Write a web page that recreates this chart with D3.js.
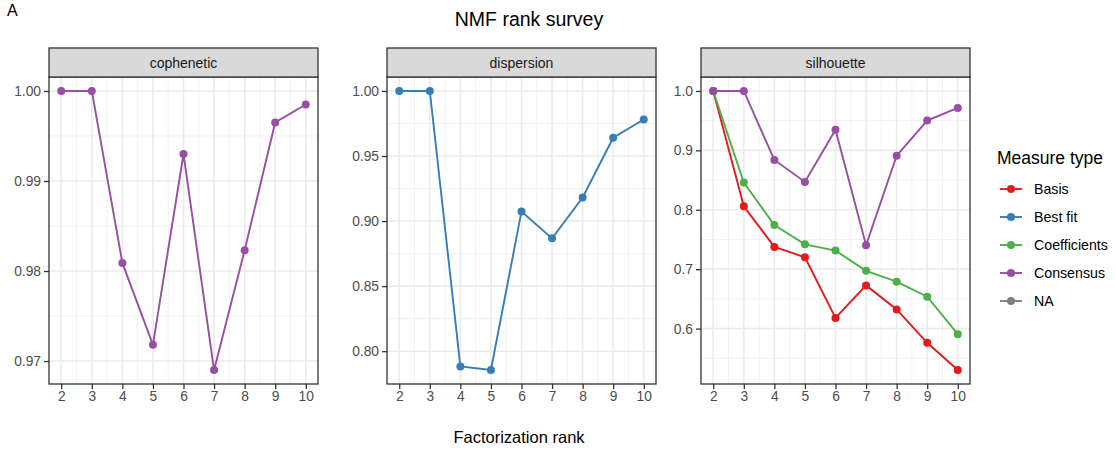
<!DOCTYPE html>
<html>
<head>
<meta charset="utf-8">
<script src="https://cdn.jsdelivr.net/npm/d3@7"></script>
<style>
  html, body { margin: 0; padding: 0; background: #fff; }
  svg { display: block; }
</style>
</head>
<body>
<svg id="chart"></svg>
<script>
// Data
const ranks = [2, 3, 4, 5, 6, 7, 8, 9, 10];
const copheneticConsensus = [1.0000, 1.0000, 0.9809, 0.9718, 0.9930, 0.9690, 0.9823, 0.9965, 0.9985];
const dispersionBestFit = [1.0000, 1.0000, 0.7883, 0.7855, 0.9074, 0.8867, 0.9181, 0.9640, 0.9781];
const silhouetteBasis = [1.0000, 0.8060, 0.7375, 0.7201, 0.6179, 0.6727, 0.6323, 0.5761, 0.5302];
const silhouetteCoefficients = [1.0000, 0.8457, 0.7742, 0.7418, 0.7313, 0.6973, 0.6789, 0.6536, 0.5905];
const silhouetteConsensus = [1.0000, 1.0000, 0.8838, 0.8469, 0.9346, 0.7402, 0.8911, 0.9502, 0.9714];

const measureTypes = ["Basis", "Best fit", "Coefficients", "Consensus", "NA"];
const measureColors = ["#E41A1C", "#377EB8", "#4DAF4A", "#984EA3", "#7F7F7F"];

const copheneticTicks = [0.97, 0.98, 0.99, 1.00];
const dispersionTicks = [0.80, 0.85, 0.90, 0.95, 1.00];
const silhouetteTicks = [0.6, 0.7, 0.8, 0.9, 1.0];

const W = 1115, H = 452;
const FONT = "Liberation Sans, Arial, sans-serif";
const color = d3.scaleOrdinal().domain(measureTypes).range(measureColors);

const svg = d3.select("#chart").attr("width", W).attr("height", H);

const facets = [
  { name: "cophenetic", x0: 49, x1: 318, ticks: copheneticTicks, fmt: ".2f",
    series: [{ type: "Consensus", values: copheneticConsensus }] },
  { name: "dispersion", x0: 387, x1: 656, ticks: dispersionTicks, fmt: ".2f",
    series: [{ type: "Best fit", values: dispersionBestFit }] },
  { name: "silhouette", x0: 701, x1: 970, ticks: silhouetteTicks, fmt: ".1f",
    series: [
      { type: "Basis", values: silhouetteBasis },
      { type: "Coefficients", values: silhouetteCoefficients },
      { type: "Consensus", values: silhouetteConsensus }
    ] }
];

const stripTop = 48, panelTop = 77, panelBottom = 384;

// Title + tag
svg.append("text").attr("x", 7).attr("y", 16)
  .style("font-family", FONT).style("font-size", "16px").style("fill", "#000")
  .text("A");
svg.append("text").attr("x", 529).attr("y", 26).attr("text-anchor", "middle")
  .style("font-family", FONT).style("font-size", "19.5px").style("fill", "#000")
  .text("NMF rank survey");

facets.forEach(f => {
  const all = f.series.flatMap(s => s.values);
  const [mn, mx] = d3.extent(all);
  const pad = (mx - mn) * 0.05;
  const x = d3.scaleLinear().domain([ranks[0] - 0.4, ranks[ranks.length - 1] + 0.4]).range([f.x0, f.x1]);
  const y = d3.scaleLinear().domain([mn - pad, mx + pad]).range([panelBottom, panelTop]);

  const g = svg.append("g");

  // panel background
  g.append("rect").attr("x", f.x0).attr("y", panelTop)
    .attr("width", f.x1 - f.x0).attr("height", panelBottom - panelTop)
    .attr("fill", "#fff");

  // minor grid
  const step = f.ticks[1] - f.ticks[0];
  const yMinor = [f.ticks[0] - step / 2, ...f.ticks.map(t => t + step / 2)]
    .filter(v => v >= y.domain()[0] && v <= y.domain()[1]);
  const xMinor = ranks.slice(0, -1).map(r => r + 0.5);
  g.selectAll(".ymin").data(yMinor).join("line")
    .attr("x1", f.x0).attr("x2", f.x1).attr("y1", d => y(d)).attr("y2", d => y(d))
    .attr("stroke", "#F2F2F2").attr("stroke-width", 1);
  g.selectAll(".xmin").data(xMinor).join("line")
    .attr("x1", d => x(d)).attr("x2", d => x(d)).attr("y1", panelTop).attr("y2", panelBottom)
    .attr("stroke", "#F2F2F2").attr("stroke-width", 1);
  // major grid
  g.selectAll(".ymaj").data(f.ticks).join("line")
    .attr("x1", f.x0).attr("x2", f.x1).attr("y1", d => y(d)).attr("y2", d => y(d))
    .attr("stroke", "#EBEBEB").attr("stroke-width", 1.6);
  g.selectAll(".xmaj").data(ranks).join("line")
    .attr("x1", d => x(d)).attr("x2", d => x(d)).attr("y1", panelTop).attr("y2", panelBottom)
    .attr("stroke", "#EBEBEB").attr("stroke-width", 1.6);

  // series
  f.series.forEach(s => {
    const pts = ranks.map((r, i) => ({ r, v: s.values[i] }));
    g.append("path").datum(pts)
      .attr("d", d3.line().x(d => x(d.r)).y(d => y(d.v)))
      .attr("fill", "none").attr("stroke", color(s.type)).attr("stroke-width", 1.9);
    g.selectAll(null).data(pts).join("circle")
      .attr("cx", d => x(d.r)).attr("cy", d => y(d.v)).attr("r", 4)
      .attr("fill", color(s.type));
  });

  // panel border
  g.append("rect").attr("x", f.x0).attr("y", panelTop)
    .attr("width", f.x1 - f.x0).attr("height", panelBottom - panelTop)
    .attr("fill", "none").attr("stroke", "#333333").attr("stroke-width", 1.3);

  // strip
  g.append("rect").attr("x", f.x0).attr("y", stripTop)
    .attr("width", f.x1 - f.x0).attr("height", panelTop - stripTop)
    .attr("fill", "#D9D9D9").attr("stroke", "#333333").attr("stroke-width", 1.3);
  g.append("text").attr("x", (f.x0 + f.x1) / 2).attr("y", (stripTop + panelTop) / 2 + 5)
    .attr("text-anchor", "middle")
    .style("font-family", FONT).style("font-size", "14px").style("fill", "#1A1A1A")
    .text(f.name);

  // axes
  g.append("g").attr("transform", `translate(${f.x0},0)`)
    .call(d3.axisLeft(y).tickValues(f.ticks).tickFormat(d3.format(f.fmt)).tickSize(5).tickPadding(3))
    .call(ax => {
      ax.select(".domain").remove();
      ax.selectAll(".tick line").attr("stroke", "#333333").attr("stroke-width", 1.3);
      ax.selectAll(".tick text").style("font-family", FONT).style("font-size", "13.8px").style("fill", "#4D4D4D");
    });
  g.append("g").attr("transform", `translate(0,${panelBottom})`)
    .call(d3.axisBottom(x).tickValues(ranks).tickFormat(d3.format("d")).tickSize(5).tickPadding(2))
    .call(ax => {
      ax.select(".domain").remove();
      ax.selectAll(".tick line").attr("stroke", "#333333").attr("stroke-width", 1.3);
      ax.selectAll(".tick text").style("font-family", FONT).style("font-size", "13.8px").style("fill", "#4D4D4D");
    });
});

// x axis title
svg.append("text").attr("x", 519).attr("y", 443).attr("text-anchor", "middle")
  .style("font-family", FONT).style("font-size", "16.5px").style("fill", "#000")
  .text("Factorization rank");

// legend
const leg = svg.append("g").attr("transform", "translate(997,0)");
leg.append("text").attr("x", 0).attr("y", 164)
  .style("font-family", FONT).style("font-size", "17.5px").style("fill", "#000")
  .text("Measure type");
measureTypes.forEach((t, i) => {
  const cy = 189 + i * 28;
  leg.append("line").attr("x1", 3).attr("x2", 25).attr("y1", cy).attr("y2", cy)
    .attr("stroke", color(t)).attr("stroke-width", 1.9);
  leg.append("circle").attr("cx", 14).attr("cy", cy).attr("r", 4).attr("fill", color(t));
  leg.append("text").attr("x", 37).attr("y", cy + 5)
    .style("font-family", FONT).style("font-size", "14.2px").style("fill", "#000")
    .text(t);
});
</script>
</body>
</html>
